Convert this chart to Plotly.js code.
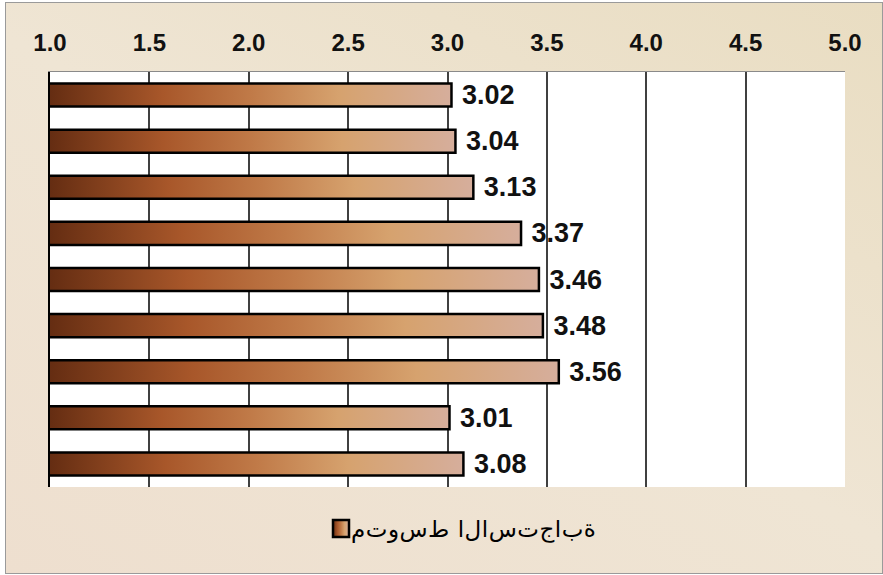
<!DOCTYPE html>
<html>
<head>
<meta charset="utf-8">
<script src="https://cdn.plot.ly/plotly-3.0.1.min.js"></script>
<style>
  html, body { margin: 0; padding: 0; width: 883px; height: 575px; overflow: hidden; background: #ffffff; }
  #frame {
    position: absolute; left: 5px; top: 2px; width: 876px; height: 570px;
    border: 1px solid #9a9a9a;
    background: linear-gradient(30deg, #eedfcf 0%, #efe5d4 50%, #e9ddc2 100%);
  }
  #chart { position: absolute; left: 0; top: 0; width: 883px; height: 575px; }
</style>
</head>
<body>
<div id="frame"></div>
<div id="chart"></div>
<script>
// ---- data ----
const categories = ['1', '2', '3', '4', '5', '6', '7', '8', '9'];
const meanValues = [3.02, 3.04, 3.13, 3.37, 3.46, 3.48, 3.56, 3.01, 3.08];
const seriesName = 'متوسط الاستجابة';
const tickValues = [1.0, 1.5, 2.0, 2.5, 3.0, 3.5, 4.0, 4.5, 5.0];
const tickLabels = ['1.0', '1.5', '2.0', '2.5', '3.0', '3.5', '4.0', '4.5', '5.0'];

const fontFamily = 'Liberation Sans, Arial, sans-serif';

const trace = {
  type: 'bar',
  orientation: 'h',
  y: categories,
  x: meanValues,
  name: seriesName,
  width: 0.5,
  marker: { color: '#b8682e', line: { color: '#000000', width: 2.5 } },
  text: meanValues.map(v => ' ' + v.toFixed(2)),
  textposition: 'outside',
  constraintext: 'none',
  cliponaxis: false,
  textfont: { family: fontFamily, size: 27, color: '#111111', weight: 'bold' },
  showlegend: true,
  hoverinfo: 'none'
};

const layout = {
  width: 883, height: 575,
  margin: { l: 50, r: 38, t: 72, b: 88 },
  paper_bgcolor: 'rgba(0,0,0,0)',
  plot_bgcolor: '#ffffff',
  showlegend: true,
  xaxis: {
    side: 'top',
    range: [1, 5],
    tickvals: tickValues,
    ticktext: tickLabels,
    showgrid: true,
    gridcolor: '#404040',
    gridwidth: 2,
    zeroline: false,
    showline: true,
    linecolor: '#8a8a8a',
    linewidth: 1,
    ticks: '',
    ticklabelstandoff: 10,
    tickfont: { family: fontFamily, size: 24, color: '#111111', weight: 'bold' },
    fixedrange: true
  },
  yaxis: {
    type: 'category',
    autorange: 'reversed',
    showticklabels: false,
    ticks: '',
    showgrid: false,
    zeroline: false,
    showline: true,
    linecolor: '#000000',
    linewidth: 2,
    fixedrange: true
  },
  legend: {
    orientation: 'h',
    x: 0.5, xanchor: 'center',
    y: -0.104, yanchor: 'middle',
    font: { family: 'DejaVu Sans, sans-serif', size: 23, color: '#000000' },
    bgcolor: 'rgba(0,0,0,0)'
  }
};

const NS = 'http://www.w3.org/2000/svg';

function makeGradient(defs, id, x2) {
  const g = document.createElementNS(NS, 'linearGradient');
  g.setAttribute('id', id);
  if (x2 !== null) {
    g.setAttribute('gradientUnits', 'userSpaceOnUse');
    g.setAttribute('x1', '0'); g.setAttribute('y1', '0');
    g.setAttribute('x2', String(x2)); g.setAttribute('y2', '0');
  } else {
    g.setAttribute('x1', '0'); g.setAttribute('y1', '0');
    g.setAttribute('x2', '1'); g.setAttribute('y2', '0');
  }
  const stops = [
    [0, '#652d12'], [0.28, '#a8572a'], [0.5, '#c07a48'],
    [0.72, '#d6a26e'], [1, '#d6ae9c']
  ];
  stops.forEach(([o, c]) => {
    const s = document.createElementNS(NS, 'stop');
    s.setAttribute('offset', o);
    s.setAttribute('stop-color', c);
    g.appendChild(s);
  });
  defs.appendChild(g);
}

// Lay the legend letters out left-to-right in logical order (as in the reference),
// spread to the reference's overall text width, never overlapping.
function forceLTR(lt, startX, targetWidth) {
  const chars = Array.from(lt.textContent);
  while (lt.firstChild) lt.removeChild(lt.firstChild);
  const spans = [];
  const widths = [];
  chars.forEach(ch => {
    const t = document.createElementNS(NS, 'tspan');
    t.textContent = ch;
    t.setAttribute('x', '0');
    lt.appendChild(t);
    spans.push(t);
    widths.push(t.getComputedTextLength());
  });
  const natural = widths.reduce((a, b) => a + b, 0);
  const gap = chars.length > 1 ? Math.max(0.5, (targetWidth - natural) / (chars.length - 1)) : 0;
  let x = startX;
  spans.forEach((t, i) => {
    t.setAttribute('x', String(x));
    x += widths[i] + gap;
  });
}

function decorate(gd) {
  const svg = gd.querySelector('svg.main-svg');
  let defs = svg.querySelector('defs');
  if (!defs) {
    defs = document.createElementNS(NS, 'defs');
    svg.insertBefore(defs, svg.firstChild);
  }
  gd.querySelectorAll('.bars .point path').forEach((p, i) => {
    const bb = p.getBBox();
    const id = 'barGrad' + i;
    makeGradient(defs, id, bb.x + bb.width);
    p.style.fill = 'url(#' + id + ')';
  });
  makeGradient(defs, 'legGrad', null);
  gd.querySelectorAll('.legendpoints path').forEach(p => {
    p.setAttribute('d', 'M8,8.5H-8V-8.5H8Z');
    p.style.fill = 'url(#legGrad)';
    p.style.stroke = '#000';
    p.style.strokeWidth = '2.5px';
  });
  const leg = gd.querySelector('g.legend');
  if (leg) {
    leg.querySelectorAll('[clip-path]').forEach(e => e.removeAttribute('clip-path'));
  }
  const lt = gd.querySelector('.legendtext');
  if (lt) {
    lt.setAttribute('text-anchor', 'start');
    forceLTR(lt, 30, 242);
  }
  // place legend so its symbol's left edge sits at x=333
  const sym = gd.querySelector('.legendpoints path');
  if (leg && sym) {
    const r = sym.getBoundingClientRect();
    const dx = 333 - r.left;
    const cy = (r.top + r.bottom) / 2;
    const dy = 528.5 - cy;
    const tr = leg.getAttribute('transform') || '';
    const m = tr.match(/translate\(([-\d.]+)[ ,]+([-\d.]+)\)/);
    if (m) {
      leg.setAttribute('transform', 'translate(' + (parseFloat(m[1]) + dx) + ',' + (parseFloat(m[2]) + dy) + ')');
    }
  }
}

Plotly.newPlot('chart', [trace], layout, { displayModeBar: false, staticPlot: true })
  .then(gd => decorate(gd));
</script>
</body>
</html>
